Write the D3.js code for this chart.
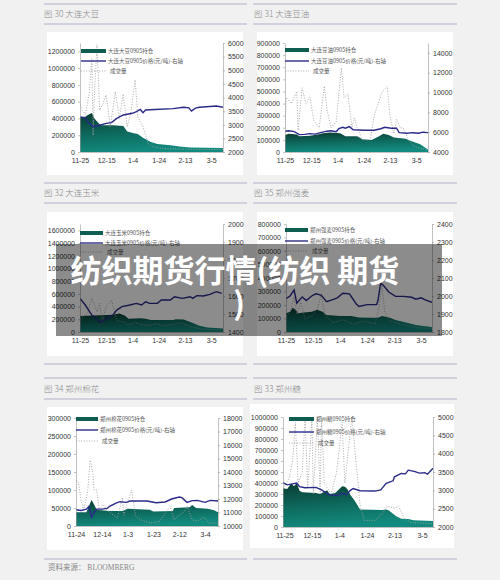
<!DOCTYPE html>
<html><head><meta charset="utf-8">
<script src="https://cdn.jsdelivr.net/npm/d3@7"></script>
<style>html,body{margin:0;padding:0;background:#f1f1f1;}svg{display:block;}</style>
</head><body>
<svg id="c" width="500" height="580"></svg>
<script>
// ---------- tick labels ----------
const xTicksStd = ["11-25","12-15","1-4","1-24","2-13","3-5"];
const xTicksCotton = ["11-24","12-14","1-3","1-23","2-12","3-4"];

// ---------- 图30 大连大豆 ----------
const soyOI = [["11-25",418000],["11-29",420000],["12-01",440000],["12-04",465000],["12-06",400000],["12-09",346000],["12-11",320000],["12-20",318000],["12-28",310000],["12-31",245000],["01-05",225000],["01-08",215000],["01-12",170000],["01-18",120000],["01-23",95000],["02-02",80000],["02-09",65000],["02-17",55000],["03-14",48000]];
const soyPrice = [["11-25",3290],["11-29",3250],["12-02",3050],["12-05",2930],["12-10",2980],["12-15",3050],["12-19",3080],["12-23",3235],["12-28",3360],["01-04",3420],["01-07",3480],["01-10",3560],["01-12",3440],["01-14",3540],["01-21",3560],["02-04",3590],["02-12",3640],["02-16",3620],["02-18",3500],["02-21",3610],["02-24",3640],["03-04",3670],["03-09",3690],["03-14",3640]];
const soyVol = [["11-25",560000],["11-27",500000],["11-29",440000],["12-02",700000],["12-04",1110000],["12-05",200000],["12-06",700000],["12-08",1280000],["12-10",500000],["12-12",560000],["12-15",680000],["12-18",300000],["12-22",720000],["12-25",400000],["12-28",690000],["12-31",300000],["01-03",500000],["01-06",860000],["01-08",420000],["01-12",300000],["01-16",100000],["01-20",60000],["01-28",40000],["02-10",35000],["02-25",30000],["03-14",30000]];

// ---------- 图31 大连豆油 ----------
const oilOI = [["11-25",140000],["11-28",150000],["12-04",145000],["12-06",130000],["12-14",135000],["12-20",145000],["12-24",155000],["12-29",160000],["01-06",155000],["01-10",130000],["01-19",130000],["01-23",105000],["01-30",100000],["02-04",125000],["02-08",150000],["02-12",140000],["02-16",120000],["02-25",110000],["03-01",90000],["03-08",65000],["03-14",20000]];
const oilPrice = [["11-25",6100],["11-28",6150],["12-02",6050],["12-06",5750],["12-10",5780],["12-14",5850],["12-18",5800],["12-22",5950],["12-27",6100],["12-30",6150],["01-03",6050],["01-05",6350],["01-08",6500],["01-10",6400],["01-13",6560],["01-16",6250],["01-25",6200],["02-01",6200],["02-06",6350],["02-09",6500],["02-14",6400],["02-18",6400],["02-20",5950],["02-26",5900],["03-02",5950],["03-07",5900],["03-10",6000],["03-14",5950]];
const oilVol = [["11-25",200000],["11-26",450000],["11-30",400000],["12-04",500000],["12-05",180000],["12-08",530000],["12-11",400000],["12-14",450000],["12-17",260000],["12-21",200000],["12-25",545000],["12-27",350000],["12-30",200000],["01-03",250000],["01-07",694000],["01-09",450000],["01-12",480000],["01-15",200000],["01-17",280000],["01-19",200000],["01-23",100000],["01-29",100000],["02-01",300000],["02-07",500000],["02-11",540000],["02-13",300000],["02-16",150000],["02-18",270000],["02-21",200000],["02-23",200000],["02-27",100000],["03-03",50000],["03-08",30000],["03-14",20000]];

// ---------- 图32 大连玉米 ----------
const cornOI = [["11-25",250000],["12-10",265000],["12-20",270000],["12-25",290000],["12-29",260000],["01-01",210000],["01-10",215000],["01-14",210000],["01-18",190000],["02-04",190000],["02-06",200000],["02-12",195000],["02-18",150000],["02-24",100000],["03-02",70000],["03-14",55000]];
const cornPrice = [["11-25",1587],["11-29",1550],["12-04",1494],["12-06",1485],["12-10",1454],["12-14",1467],["12-16",1476],["12-20",1494],["12-23",1522],["12-27",1541],["01-02",1550],["01-07",1559],["01-11",1550],["01-14",1568],["01-17",1559],["01-23",1559],["01-26",1578],["02-02",1578],["02-05",1596],["02-11",1587],["02-17",1596],["02-19",1587],["02-22",1602],["02-27",1600],["03-04",1609],["03-09",1624],["03-13",1615]];
const cornVol = [["11-25",200000],["11-28",250000],["12-01",300000],["12-04",535000],["12-08",315000],["12-10",456000],["12-12",160000],["12-15",400000],["12-19",504000],["12-21",350000],["12-23",180000],["12-28",160000],["01-01",110000],["01-06",150000],["01-10",120000],["01-16",100000],["01-22",130000],["01-28",100000],["02-04",120000],["02-10",150000],["02-14",110000],["02-20",70000],["02-26",50000],["03-05",35000],["03-13",30000]];

// ---------- 图35 郑州强麦 ----------
const wheatOI = [["11-25",138000],["11-28",150000],["11-30",180000],["12-02",165000],["12-04",138000],["12-08",145000],["12-14",150000],["12-18",165000],["12-22",150000],["12-25",126000],["01-04",118000],["01-12",118000],["01-18",108000],["01-27",106000],["02-01",105000],["02-04",118000],["02-10",105000],["02-14",89000],["02-24",65000],["03-01",52000],["03-11",39000],["03-13",35000]];
const wheatPrice = [["11-25",1985],["11-28",2000],["12-01",2033],["12-03",1960],["12-07",1995],["12-10",1975],["12-14",2000],["12-17",2012],["12-21",2005],["12-25",1968],["12-29",1978],["01-02",1990],["01-06",2015],["01-11",2012],["01-12",2000],["01-16",1955],["01-18",1942],["01-24",1952],["01-31",1952],["02-01",1975],["02-03",2072],["02-05",2060],["02-09",2022],["02-14",1998],["02-20",1998],["02-26",1993],["03-01",1982],["03-05",1990],["03-08",1978],["03-13",1965]];
const wheatVol = [["11-25",100000],["11-28",150000],["12-01",260000],["12-03",130000],["12-06",220000],["12-09",100000],["12-14",120000],["12-18",160000],["12-21",280000],["12-24",120000],["12-30",70000],["01-06",90000],["01-14",60000],["01-22",80000],["01-30",60000],["02-02",200000],["02-04",350000],["02-06",150000],["02-10",80000],["02-18",60000],["02-26",40000],["03-05",30000],["03-13",25000]];

// ---------- 图34 郑州棉花 ----------
const cottonOI = [["11-24",38000],["12-02",38000],["12-04",55000],["12-06",72000],["12-08",60000],["12-10",45000],["12-20",42000],["12-30",42000],["01-03",48000],["01-20",45000],["01-23",40000],["02-07",42000],["02-08",50000],["02-20",52000],["02-22",58000],["02-25",50000],["03-06",48000],["03-11",44000],["03-14",38000]];
const cottonPrice = [["11-24",11200],["11-28",11150],["12-02",11250],["12-04",11450],["12-06",10650],["12-08",11000],["12-10",11250],["12-14",11250],["12-18",11300],["12-20",11450],["12-25",11700],["12-28",11800],["01-02",11750],["01-05",11850],["01-12",11850],["01-18",11850],["01-25",11720],["02-01",11780],["02-06",12000],["02-12",12150],["02-14",12100],["02-18",11750],["02-22",11880],["02-26",11900],["03-04",11750],["03-08",11900],["03-14",11850]];
const cottonVol = [["11-24",128000],["11-26",120000],["11-27",95000],["11-28",68000],["11-30",44000],["12-03",95000],["12-05",183000],["12-07",150000],["12-08",100000],["12-10",100000],["12-12",44000],["12-15",60000],["12-18",44000],["12-23",30000],["12-26",22000],["12-30",78000],["12-31",30000],["01-06",100000],["01-09",30000],["01-13",17000],["01-21",8000],["01-28",13000],["02-02",40000],["02-05",54000],["02-08",17000],["02-12",30000],["02-16",40000],["02-18",55000],["02-22",17000],["02-26",13000],["03-03",25000],["03-07",8000],["03-14",8000]];

// ---------- 图33 郑州糖 ----------
const sugarOI = [["11-24",352000],["11-27",345000],["11-30",395000],["12-02",370000],["12-04",400000],["12-06",330000],["12-08",315000],["12-18",310000],["12-21",300000],["12-26",335000],["12-28",300000],["01-01",310000],["01-06",370000],["01-08",365000],["01-10",340000],["01-12",290000],["01-15",240000],["01-17",200000],["01-19",160000],["02-04",155000],["02-07",160000],["02-09",150000],["02-14",100000],["02-18",75000],["02-23",72000],["02-27",62000],["03-13",55000]];
const sugarPrice = [["11-24",3210],["11-27",3150],["11-30",3170],["12-04",3200],["12-06",3100],["12-10",3070],["12-18",3080],["12-22",3010],["12-28",2870],["01-03",2860],["01-05",2920],["01-09",2880],["01-12",3000],["01-14",3050],["01-19",2990],["01-30",2980],["02-03",3010],["02-07",3190],["02-12",3260],["02-13",3370],["02-18",3460],["02-21",3450],["02-23",3550],["02-28",3510],["03-03",3470],["03-07",3480],["03-09",3440],["03-12",3560],["03-13",3600]];
const sugarVol = [["11-24",350000],["11-28",420000],["12-01",600000],["12-03",950000],["12-05",400000],["12-08",500000],["12-10",1000000],["12-12",350000],["12-15",1000000],["12-16",300000],["12-19",1000000],["12-21",300000],["12-22",1000000],["12-24",400000],["12-29",300000],["01-02",500000],["01-06",950000],["01-08",400000],["01-13",1000000],["01-16",600000],["01-19",200000],["01-22",60000],["01-30",60000],["02-04",120000],["02-08",190000],["02-13",170000],["02-16",190000],["02-20",80000],["02-25",40000],["03-13",30000]];

// ---------- helpers ----------
function pd(s){const [m,d]=s.split("-").map(Number);return new Date(m>=11?2008:2009,m-1,d);}
const svg = d3.select("#c");
const CJK = "'Noto Sans CJK SC', sans-serif";
const NUM = "'Liberation Sans', Arial, sans-serif";

// separator lines
const sepY = [4,24,183,203,364,378,399,559];
[[44,247],[253,457]].forEach(([a,b])=>{
  sepY.forEach(y=>svg.append("line").attr("x1",a).attr("x2",b).attr("y1",y).attr("y2",y)
    .attr("stroke","#c6c6d6").attr("stroke-width",1.4));
});

let gid=0;
function chart(c){
  const g = svg.append("g");
  g.append("text").attr("x",c.tx).attr("y",c.ty).text(c.title)
    .attr("font-family",CJK).attr("font-weight",300).attr("font-size",8.5).attr("fill","#8a8a8a");
  g.append("rect").attr("x",c.px).attr("y",c.py).attr("width",c.pw).attr("height",c.ph).attr("fill","#fff");
  const x = d3.scaleTime().domain([pd(c.start),pd(c.end)]).range([c.x0,c.x1]);
  const yl = d3.scaleLinear().domain(c.left).range([c.yb,c.yt]);
  const yr = d3.scaleLinear().domain(c.right).range([c.yb,c.yt]);
  const id = "g"+(gid++);
  const defs = g.append("defs");
  const gr = defs.append("linearGradient").attr("id",id).attr("x1",0).attr("y1",0).attr("x2",0.25).attr("y2",1);
  gr.append("stop").attr("offset","0%").attr("stop-color","#0a3a30");
  gr.append("stop").attr("offset","55%").attr("stop-color","#0e6a5e");
  gr.append("stop").attr("offset","100%").attr("stop-color","#138a7e");
  defs.append("clipPath").attr("id","cl"+id).append("rect")
    .attr("x",c.x0).attr("y",c.yt).attr("width",c.x1-c.x0).attr("height",c.yb-c.yt);
  const pg = g.append("g").attr("clip-path",`url(#cl${id})`);
  pg.append("path").datum(c.oi)
    .attr("d",d3.area().x(d=>x(pd(d[0]))).y0(yl(0)).y1(d=>yl(d[1])))
    .attr("fill",`url(#${id})`);
  pg.append("path").datum(c.vol)
    .attr("d",d3.line().x(d=>x(pd(d[0]))).y(d=>yl(d[1])))
    .attr("fill","none").attr("stroke","#a0a0a0").attr("stroke-width",0.9).attr("stroke-dasharray","1,1.6");
  pg.append("path").datum(c.price)
    .attr("d",d3.line().x(d=>x(pd(d[0]))).y(d=>yr(d[1])))
    .attr("fill","none").attr("stroke","#2a2a8a").attr("stroke-width",1.4);
  const styleAxis = a=>{
    a.selectAll("path,line").attr("stroke","#999").attr("stroke-width",0.6);
    a.selectAll("text").attr("font-family",NUM).attr("font-size",7).attr("fill","#333");
  };
  const la = g.append("g").attr("transform",`translate(${c.x0},0)`)
    .call(d3.axisLeft(yl).tickValues(c.leftTicks).tickFormat(d3.format("d")).tickSize(2).tickSizeOuter(0).tickPadding(3));
  styleAxis(la);
  const ra = g.append("g").attr("transform",`translate(${c.x1},0)`)
    .call(d3.axisRight(yr).tickValues(c.rightTicks).tickFormat(d3.format("d")).tickSize(2).tickSizeOuter(0).tickPadding(3));
  styleAxis(ra);
  const ba = g.append("g").attr("transform",`translate(0,${c.yb})`)
    .call(d3.axisBottom(x).tickValues(c.xTicks.map(pd)).tickFormat((d,i)=>c.xTicks[i]).tickSize(0).tickSizeOuter(0).tickPadding(6));
  styleAxis(ba);
  const L = c.leg;
  g.append("rect").attr("x",L.x).attr("y",L.y[0]-2).attr("width",L.w).attr("height",4).attr("fill","#0f5d51");
  g.append("line").attr("x1",L.x).attr("x2",L.x+L.w).attr("y1",L.y[1]).attr("y2",L.y[1]).attr("stroke","#2a2a8a").attr("stroke-width",1.4);
  g.append("line").attr("x1",L.x).attr("x2",L.x+L.w).attr("y1",L.y[2]).attr("y2",L.y[2]).attr("stroke","#a0a0a0").attr("stroke-width",0.9).attr("stroke-dasharray","1,1.6");
  c.names.forEach((n,i)=>g.append("text").attr("x",L.x+L.w+2+(i==2?2:0)).attr("y",L.y[i]+2).text(n)
    .attr("font-family",CJK).attr("font-size",5.5).attr("fill","#555"));
}
function range(a,b,s){const r=[];for(let v=a;v<=b+1e-9;v+=s)r.push(v);return r;}

chart({title:"图 30  大连大豆",tx:44,ty:17,px:47,py:32,pw:196,ph:143,x0:80,x1:223,yt:43,yb:152,
  start:"11-25",end:"03-14",left:[0,1300000],leftTicks:range(0,1200000,200000),right:[2000,6000],rightTicks:range(2000,6000,500),
  xTicks:xTicksStd,oi:soyOI,price:soyPrice,vol:soyVol,
  leg:{x:81,w:25,y:[51,61,71]},names:["大连大豆0905持仓","大连大豆0905价格(元/吨)-右轴","成交量"]});
chart({title:"图 31  大连豆油",tx:254,ty:17,px:257,py:32,pw:196,ph:143,x0:285,x1:428,yt:43,yb:152,
  start:"11-25",end:"03-14",left:[0,900000],leftTicks:range(0,900000,100000),right:[4000,15000],rightTicks:range(4000,14000,2000),
  xTicks:xTicksStd,oi:oilOI,price:oilPrice,vol:oilVol,
  leg:{x:285,w:24,y:[50,61,71]},names:["大连豆油0905持仓","大连豆油0905价格(元/吨)-右轴","成交量"]});
chart({title:"图 32  大连玉米",tx:44,ty:196,px:47,py:212,pw:196,ph:144,x0:80,x1:223,yt:224,yb:332,
  start:"11-25",end:"03-14",left:[0,1700000],leftTicks:range(0,1600000,200000),right:[1400,2000],rightTicks:range(1400,2000,100),
  xTicks:xTicksStd,oi:cornOI,price:cornPrice,vol:cornVol,
  leg:{x:80,w:23,y:[233,243,252]},names:["大连玉米0905持仓","大连玉米0905价格(元/吨)-右轴","成交量"]});
chart({title:"图 35  郑州强麦",tx:254,ty:196,px:257,py:212,pw:196,ph:144,x0:286,x1:432,yt:224,yb:332,
  start:"11-25",end:"03-13",left:[0,800000],leftTicks:range(0,800000,100000),right:[1800,2400],rightTicks:range(1800,2400,100),
  xTicks:xTicksStd,oi:wheatOI,price:wheatPrice,vol:wheatVol,
  leg:{x:285,w:23,y:[230,241,251]},names:["郑州强麦0905持仓","郑州强麦0905价格(元/吨)-右轴","成交量"]});
chart({title:"图 34  郑州棉花",tx:44,ty:392,px:47,py:407,pw:196,ph:143,x0:76,x1:218,yt:418,yb:526,
  start:"11-24",end:"03-14",left:[0,300000],leftTicks:range(0,300000,50000),right:[10000,18000],rightTicks:range(10000,18000,1000),
  xTicks:xTicksCotton,oi:cottonOI,price:cottonPrice,vol:cottonVol,
  leg:{x:76,w:22,y:[419,430,441]},names:["郑州棉花0905持仓","郑州棉花0905价格(元/吨)-右轴","成交量"]});
chart({title:"图 33  郑州糖",tx:254,ty:392,px:250,py:404,pw:204,ph:144,x0:283,x1:433,yt:417,yb:527,
  start:"11-24",end:"03-13",left:[0,1000000],leftTicks:range(0,1000000,100000),right:[2000,5000],rightTicks:range(2000,5000,500),
  xTicks:xTicksStd,oi:sugarOI,price:sugarPrice,vol:sugarVol,
  leg:{x:289,w:25,y:[419,432,443]},names:["郑州糖0905持仓","郑州糖0905价格(元/吨)-右轴","成交量"]});

svg.append("text").attr("x",48).attr("y",570).text("资料来源： BLOOMBERG")
  .attr("font-family","'Liberation Serif', "+CJK).attr("font-size",7.5).attr("fill","#888");

// overlay title
svg.append("rect").attr("x",56).attr("y",244).attr("width",386).attr("height",92).attr("fill","rgba(0,0,0,0.45)");
svg.append("text").attr("x",235).attr("y",282).attr("text-anchor","middle").attr("font-family",CJK)
  .attr("font-weight",700).attr("font-size",31).attr("fill","#fff").text("纺织期货行情(纺织 期货");
svg.append("text").attr("x",239).attr("y",315).attr("text-anchor","middle").attr("font-family",CJK)
  .attr("font-weight",700).attr("font-size",31).attr("fill","#fff").text(")");
</script>
</body></html>
